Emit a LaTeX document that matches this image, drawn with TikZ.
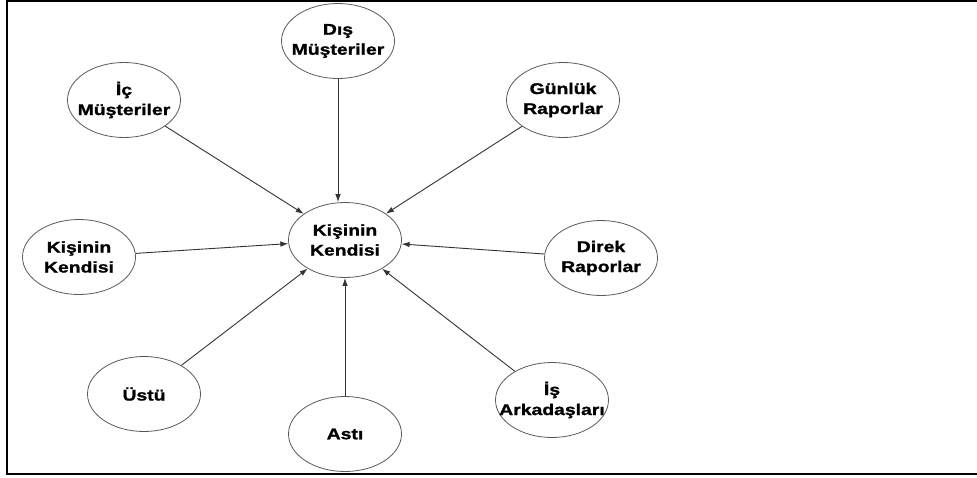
\documentclass[tikz,border=0pt]{standalone}
\usepackage{fontspec}
\newfontfamily\lblfont[FakeStretch=1.25,BoldFeatures={FakeBold=1.2}]{Liberation Sans}
\usetikzlibrary{shapes.geometric,arrows.meta,positioning}
\tikzstyle{arrow} = [line width=0.9pt,draw=black!80,->,>={Latex[length=8pt,width=5.5pt]}]
\tikzstyle{bubble} = [draw=black!65,line width=0.8pt,ellipse,minimum width=113pt,minimum height=75pt,inner sep=0pt]
\tikzstyle{txt} = [font=\lblfont\bfseries\fontsize{15.5}{20}\selectfont,align=center,inner sep=0pt]

\begin{document}
\begin{tikzpicture}[x=1pt,y=-1pt]
\useasboundingbox (0,0) rectangle (977,477);
\draw[line width=2pt] (980,1) -- (7,1) -- (7,474) -- (980,474);

% centre
\node[bubble,label={[txt]center:Kişinin\\Kendisi}] (kendi) at (345,240) {};

\node[bubble,label={[txt]center:Dış\\Müşteriler}] (dis) at (338,41) {};
\node[bubble,label={[txt]center:İç\\Müşteriler}] (ic) at (124,100) {};
\node[bubble,label={[txt]center:Günlük\\Raporlar}] (gunluk) at (563,100) {};
\node[bubble,label={[txt]center:Kişinin\\Kendisi}] (kisi) at (79,257) {};
\node[bubble,label={[txt]center:Direk\\Raporlar}] (direk) at (601,258) {};
\node[bubble,label={[txt]center:Üstü}] (ustu) at (144,394) {};
\node[bubble,label={[txt]center:Astı}] (asti) at (345,434) {};
\node[bubble,label={[txt]center:İş\\Arkadaşları}] (is) at (552,400) {};

\draw[arrow] (dis) -- (dis |- kendi.north);
\draw[arrow] (ic) -- (kendi);
\draw[arrow] (gunluk) -- (kendi);
\draw[arrow] (kisi) -- (kendi);
\draw[arrow] (direk) -- (kendi);
\draw[arrow] (ustu) -- (kendi);
\draw[arrow] (asti) -- (kendi);
\draw[arrow] (is) -- (kendi);
\end{tikzpicture}
\end{document}
